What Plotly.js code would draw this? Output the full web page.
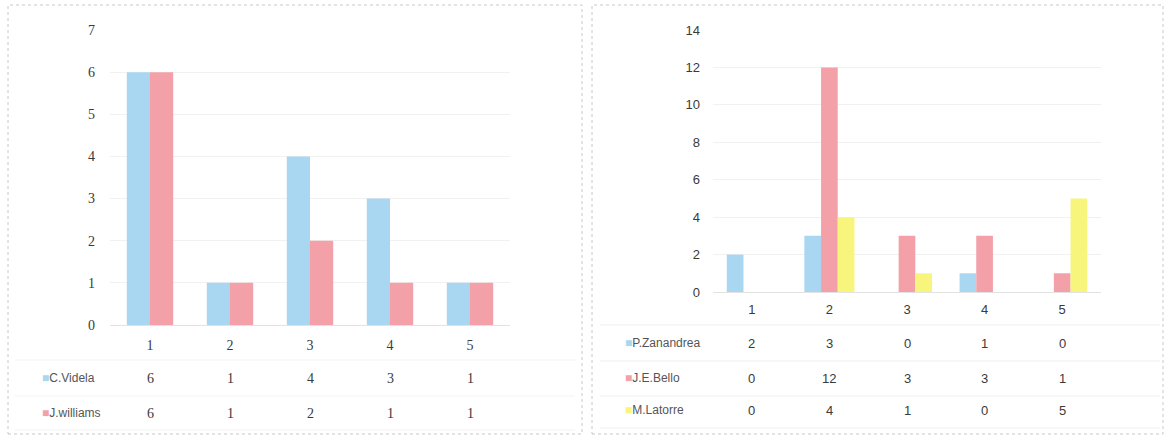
<!DOCTYPE html>
<html>
<head>
<meta charset="utf-8">
<script src="https://cdn.plot.ly/plotly-3.0.1.min.js"></script>
<style>html,body{margin:0;padding:0;background:#fff;}#chart{width:1165px;height:435px;}</style>
</head>
<body>
<div id="chart"></div>
<script>
// ---- data ----
const categories = ["1", "2", "3", "4", "5"];

const leftSeriesNames = ["C.Videla", "J.williams"];
const cVidela = [6, 1, 4, 3, 1];
const jWilliams = [6, 1, 2, 1, 1];

const rightSeriesNames = ["P.Zanandrea", "J.E.Bello", "M.Latorre"];
const pZanandrea = [2, 3, 0, 1, 0];
const jeBello = [0, 12, 3, 3, 1];
const mLatorre = [0, 4, 1, 0, 5];

const leftTicks = [0, 1, 2, 3, 4, 5, 6, 7];
const rightTicks = [0, 2, 4, 6, 8, 10, 12, 14];

// ---- styling ----
const W = 1165, H = 435;
const BLUE = "#a9d6f0", PINK = "#f3a0a8", YELLOW = "#f7f57c";
const TXT = "#3a3a3a";
const FONT = "Liberation Serif, serif";
const FONT2 = "Liberation Sans, Arial, sans-serif";
const py = p => 1 - p / H;
const px = p => p / W;

const leftSeries = [cVidela, jWilliams];
const rightSeries = [pZanandrea, jeBello, mLatorre];
const leftColors = [BLUE, PINK];
const rightColors = [BLUE, PINK, YELLOW];

const LW = 0.29, RW = 0.215; // bar widths in category units
const traces = [];
leftSeries.forEach((vals, i) => traces.push({
  type: "bar", x: categories, y: vals, name: leftSeriesNames[i],
  marker: {color: leftColors[i]}, xaxis: "x", yaxis: "y",
  width: LW, offset: -LW * leftSeries.length / 2 + i * LW
}));
rightSeries.forEach((vals, i) => traces.push({
  type: "bar", x: categories, y: vals, name: rightSeriesNames[i],
  marker: {color: rightColors[i]}, xaxis: "x2", yaxis: "y2",
  width: RW, offset: -RW * rightSeries.length / 2 + i * RW
}));

const annotations = [];
const shapes = [];

// left table
const leftRowsY = [378, 413];
leftSeries.forEach((vals, i) => {
  annotations.push({xref: "paper", yref: "paper", x: px(40), y: py(leftRowsY[i]),
    xanchor: "left", yanchor: "middle", showarrow: false,
    text: "<span style='color:" + leftColors[i] + "'>■</span>" + leftSeriesNames[i],
    font: {family: FONT2, size: 12, color: "#555"}});
  vals.forEach((v, j) => annotations.push({xref: "x", yref: "paper", x: j, y: py(leftRowsY[i]),
    xanchor: "center", yanchor: "middle", showarrow: false, text: String(v),
    font: {family: FONT, size: 14, color: TXT}}));
});

// right table
const rightRowsY = [343, 378, 410];
rightSeries.forEach((vals, i) => {
  annotations.push({xref: "paper", yref: "paper", x: px(623), y: py(rightRowsY[i]),
    xanchor: "left", yanchor: "middle", showarrow: false,
    text: "<span style='color:" + rightColors[i] + "'>■</span>" + rightSeriesNames[i],
    font: {family: FONT2, size: 12, color: "#555"}});
  vals.forEach((v, j) => annotations.push({xref: "x2", yref: "paper", x: j, y: py(rightRowsY[i]),
    xanchor: "center", yanchor: "middle", showarrow: false, text: String(v),
    font: {family: FONT2, size: 13, color: TXT}}));
});

// panel borders
[[8, 582], [592, 1163]].forEach(([a, b]) => shapes.push({type: "rect", xref: "paper", yref: "paper",
  x0: px(a), x1: px(b), y0: py(434), y1: py(5), line: {color: "#c8c8c8", width: 1, dash: "dot"}}));
// faint table separators
[325, 361, 396, 428].forEach(yy => shapes.push({type: "line", xref: "paper", yref: "paper",
  x0: px(600), x1: px(1160), y0: py(yy), y1: py(yy), line: {color: "#efefef", width: 1}}));
[360, 396, 430].forEach(yy => shapes.push({type: "line", xref: "paper", yref: "paper",
  x0: px(15), x1: px(575), y0: py(yy), y1: py(yy), line: {color: "#f3f3f3", width: 1}}));

const layout = {
  width: W, height: H,
  margin: {l: 0, r: 0, t: 0, b: 0},
  paper_bgcolor: "#fff", plot_bgcolor: "#fff",
  showlegend: false,
  barmode: "overlay",
  xaxis: {domain: [px(110), px(510)], anchor: "y", type: "category", range: [-0.5, 4.5],
    showgrid: false, zeroline: false, showline: false, ticks: "",
    ticklabelstandoff: 10, tickfont: {family: FONT, size: 14, color: TXT}},
  yaxis: {domain: [py(325), py(30)], anchor: "x", range: [0, 7], tickvals: leftTicks,
    showgrid: true, gridcolor: "#f1f1f1", zeroline: true, zerolinecolor: "#e2e2e2",
    ticks: "", ticklabelstandoff: 14, tickfont: {family: FONT, size: 14, color: TXT}},
  xaxis2: {domain: [px(713), px(1101)], anchor: "y2", type: "category", range: [-0.5, 4.5],
    showgrid: false, zeroline: false, showline: false, ticks: "",
    ticklabelstandoff: 8, tickfont: {family: FONT2, size: 13, color: TXT}},
  yaxis2: {domain: [py(292), py(30)], anchor: "x2", range: [0, 14], tickvals: rightTicks,
    showgrid: true, gridcolor: "#f1f1f1", zeroline: true, zerolinecolor: "#e2e2e2",
    ticks: "", ticklabelstandoff: 12, tickfont: {family: FONT2, size: 13, color: TXT}},
  annotations: annotations,
  shapes: shapes
};

Plotly.newPlot("chart", traces, layout, {staticPlot: true, displayModeBar: false});
</script>
</body>
</html>
